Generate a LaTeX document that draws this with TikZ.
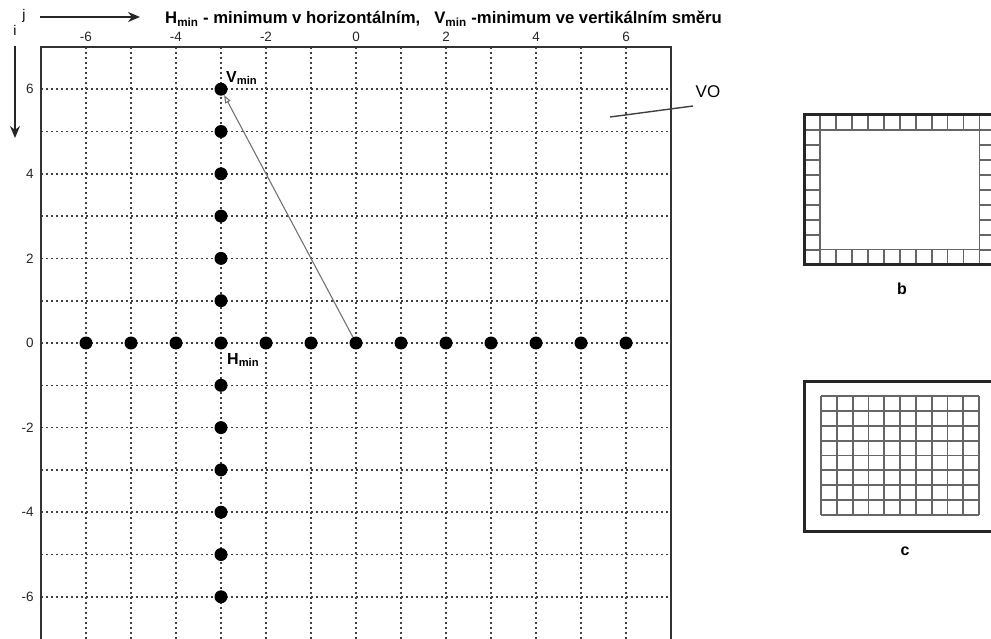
\documentclass[tikz,border=0pt]{standalone}
\usepackage{fontspec}
\setmainfont{Liberation Sans}
\usetikzlibrary{arrows.meta}

\begin{document}
\begin{tikzpicture}[x=1pt,y=-1pt,
  frame/.style={draw=black!80,line width=2.2pt},
  gridln/.style={black!75,line width=1.6pt,dash pattern=on 2pt off 3pt},
  dot/.style={circle,fill=black,inner sep=0pt,minimum size=13pt},
  tick/.style={font=\fontsize{13.5}{13.5}\selectfont,text=black!85,inner sep=0pt},
  lbl/.style={font=\bfseries\fontsize{16}{16}\selectfont,inner sep=0pt},
  vec/.style={-{Triangle[open,length=8pt,width=6pt]},black!55,line width=1.1pt},
  axis/.style={-{Stealth[length=12pt,width=10pt]},black!85,line width=1.4pt},
  cellln/.style={black!60,line width=1.8pt},
  box/.style={draw=black!85,line width=3pt},
]
\useasboundingbox (0,0) rectangle (991,639);

% header
\node[lbl,anchor=base west,font=\bfseries\fontsize{16.7}{16.7}\selectfont] (title) at (165,24)
  {H\textsubscript{min} - minimum v horizontálním,\hspace{14pt}V\textsubscript{min} -minimum ve vertikálním směru};
\coordinate (ja) at (40,17);
\coordinate (jb) at (140,17);
\draw[axis] (ja) -- (jb);
\node[font=\fontsize{14}{14}\selectfont,inner sep=0pt] (jl) at (24,16) {j};
\coordinate (ia) at (15,46);
\coordinate (ib) at (15,138);
\draw[axis] (ia) -- (ib);
\node[font=\fontsize{14}{14}\selectfont,inner sep=0pt] (il) at (15,30) {i};

% main grid
\begin{scope}[shift={(356,343)},x=45pt,y=42.3pt]
\foreach \k in {-6,...,6} {
  \draw[gridln] (\k,7) -- (\k,-7.2);
  \draw[gridln] (-7,\k) -- (7,\k);
}
\draw[frame] (-7,-7.3) -- (-7,7) -- (7,7) -- (7,-7.3);
\foreach \k in {-6,-4,...,6} {
  \node[tick] (tx\k) at (\k,7.23) {\k};
  \node[tick,anchor=east] (ty\k) at (-7.16,\k) {\k};
}
% minima
\foreach \x in {-6,...,6}
  \node[dot] (h\x) at (\x,0) {};
\foreach \y in {-6,...,-1,1,2,...,6}
  \node[dot] (v\y) at (-3,\y) {};
\draw[vec] (h0) -- (v6);
\node[lbl,anchor=west] (vmin) at ([xshift=5pt,yshift=11pt]v6.center) {V\textsubscript{min}};
\node[lbl,anchor=west] (hmin) at ([xshift=6pt,yshift=-17pt]h-3.center) {H\textsubscript{min}};
\end{scope}

% VO
\node[font=\fontsize{17}{17}\selectfont,inner sep=0pt] (vo) at (708,92) {VO};
\coordinate (voa) at (610,117);
\coordinate (vob) at (693,106);
\draw[black!75,line width=1.4pt] (voa) -- (vob);

% box b
\foreach \k in {1,...,11} {
  \draw[cellln] (804+15.95*\k,115) -- ++(0,15);
  \draw[cellln] (804+15.95*\k,249.5) -- ++(0,15);
}
\foreach \k in {1,...,9} {
  \draw[cellln] (804,115+15*\k) -- ++(15.95,0);
  \draw[cellln] (979.55,115+15*\k) -- ++(15.95,0);
}
\draw[cellln] (819.95,130) rectangle (979.55,249.5);
\draw[box] (804,115) rectangle (995.5,264.5);
\node[lbl] (lb) at (902,289) {b};

% box c
\foreach \k in {0,...,10}
  \draw[cellln] (821+15.8*\k,396) -- ++(0,119);
\foreach \k in {0,...,8}
  \draw[cellln] (821,396+14.875*\k) -- ++(158,0);
\draw[box] (804,381) rectangle (996,531);
\node[lbl] (lc) at (905,551) {c};
\end{tikzpicture}
\end{document}
